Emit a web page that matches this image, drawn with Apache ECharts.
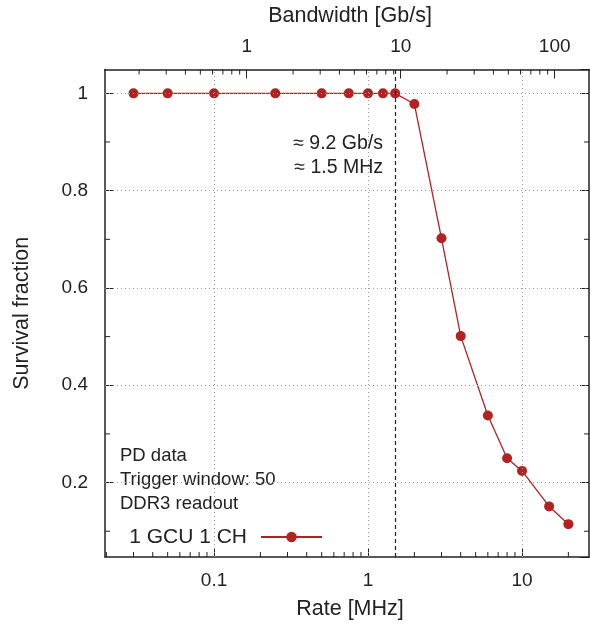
<!DOCTYPE html>
<html><head><meta charset="utf-8">
<script src="https://cdn.jsdelivr.net/npm/echarts@6/dist/echarts.min.js"></script>
<style>html,body{margin:0;padding:0;background:#fff}#c{width:590px;height:625px}</style>
</head><body><div id="c"></div>
<script>
// ---- data ----
const rateMHz  = [0.03, 0.05, 0.1, 0.25, 0.5, 0.75, 1, 1.25, 1.5, 2, 3, 4, 6, 8, 10, 15, 20];
const survival = [1, 1, 1, 1, 1, 1, 1, 1, 1, 0.978, 0.702, 0.501, 0.338, 0.250, 0.224, 0.151, 0.1145];
const seriesName = '1 GCU 1 CH';
const rateRange = [0.01959, 27.23];
const gbPerMHz = 9.2 / 1.5;
const yRange = [0.047, 1.049];
const rateGrid = [0.1, 1, 10];
const yGrid = [0.2, 0.4, 0.6, 0.8, 1.0];
const yMinor = [0.1, 0.3, 0.5, 0.7, 0.9];
const rateMinor = [0.02, 0.03, 0.04, 0.05, 0.06, 0.07, 0.08, 0.09, 0.2, 0.3, 0.4, 0.5, 0.6, 0.7, 0.8, 0.9, 2, 3, 4, 5, 6, 7, 8, 9, 20];
const bwMinor = [0.2, 0.3, 0.4, 0.5, 0.6, 0.7, 0.8, 0.9, 2, 3, 4, 5, 6, 7, 8, 9, 20, 30, 40, 50, 60, 70, 80, 90];
const cutRate = 1.5;
const cutText = ['≈ 9.2 Gb/s', '≈ 1.5 MHz'];
const infoText = ['PD data', 'Trigger window: 50', 'DDR3 readout'];
const xTitle = 'Rate [MHz]', x2Title = 'Bandwidth [Gb/s]', yTitle = 'Survival fraction';

// ---- style ----
const FONT = "'Liberation Sans', Arial, Helvetica, sans-serif";
const INK = '#222';
const RED = '#b22222';
const axisLine = {show: true, lineStyle: {color: INK, width: 1.5}};
const majorTick = {show: true, inside: true, length: 9, lineStyle: {color: INK, width: 1}};
const lbl = {fontSize: 19, fontFamily: FONT, color: INK, showMinLabel: false, showMaxLabel: false};
const titleStyle = {fontSize: 21.5, fontFamily: FONT, color: INK};
const xTitleStyle = {fontSize: 21.5, fontFamily: FONT, color: INK, padding: [0, 0, 0, 6]};

const chart = echarts.init(document.getElementById('c'), null, {renderer: 'canvas'});

function tickSeries(vals, xi, yi, dir) {
  return {
    type: 'custom', xAxisIndex: xi, yAxisIndex: yi, silent: true, z: 5, clip: false,
    data: vals.map(v => dir === 'y' ? [rateRange[0] * (xi ? gbPerMHz : 1), v] : [v, yRange[0]]),
    renderItem(params, api) {
      const cs = params.coordSys;
      const p = api.coord([api.value(0), api.value(1)]);
      const st = {stroke: INK, lineWidth: 1};
      if (dir === 'bottom') return {type: 'line', shape: {x1: p[0], y1: cs.y + cs.height, x2: p[0], y2: cs.y + cs.height - 5}, style: st};
      if (dir === 'top') return {type: 'line', shape: {x1: p[0], y1: cs.y, x2: p[0], y2: cs.y + 5}, style: st};
      return {type: 'group', children: [
        {type: 'line', shape: {x1: cs.x, y1: p[1], x2: cs.x + 5, y2: p[1]}, style: st},
        {type: 'line', shape: {x1: cs.x + cs.width, y1: p[1], x2: cs.x + cs.width - 5, y2: p[1]}, style: st}
      ]};
    }
  };
}

const dotted = {color: '#9a9a9a', width: 1, type: [1, 3]};

chart.setOption({
  animation: false,
  backgroundColor: '#fff',
  textStyle: {fontFamily: FONT},
  grid: {left: 105, right: 1, top: 69.5, bottom: 66.5, containLabel: false},
  xAxis: [
    {type: 'log', logBase: 10, position: 'bottom', min: rateRange[0], max: rateRange[1],
     axisLine, axisTick: majorTick, axisLabel: Object.assign({margin: 14}, lbl),
     splitLine: {show: false}, minorTick: {show: false},
     name: xTitle, nameLocation: 'middle', nameGap: 41, nameTextStyle: xTitleStyle},
    {type: 'log', logBase: 10, position: 'top', min: rateRange[0] * gbPerMHz, max: rateRange[1] * gbPerMHz,
     axisLine, axisTick: majorTick, axisLabel: Object.assign({margin: 13}, lbl),
     splitLine: {show: false}, minorTick: {show: false},
     name: x2Title, nameLocation: 'middle', nameGap: 42, nameTextStyle: xTitleStyle}
  ],
  yAxis: [
    {type: 'value', position: 'left', min: yRange[0], max: yRange[1],
     axisLine, axisTick: majorTick, axisLabel: Object.assign({margin: 17}, lbl),
     splitLine: {show: false},
     name: yTitle, nameLocation: 'middle', nameGap: 72, nameTextStyle: titleStyle},
    {type: 'value', position: 'right', min: yRange[0], max: yRange[1],
     axisLine, axisTick: majorTick, axisLabel: {show: false}, splitLine: {show: false}}
  ],
  legend: {
    data: [seriesName], right: 267, top: 526.5, align: 'right', padding: 0,
    itemWidth: 61, itemHeight: 13,
    textStyle: {fontSize: 21, fontFamily: FONT, color: INK, padding: [0, 9, 0, 0]}
  },
  series: [
    {type: 'line', name: '_grid', xAxisIndex: 0, yAxisIndex: 0, data: [], z: 1, silent: true,
     markLine: {silent: true, symbol: ['none', 'none'], label: {show: false}, animation: false,
       emphasis: {disabled: true},
       data: [
         ...yGrid.map(v => ({yAxis: v, lineStyle: dotted})),
         ...rateGrid.map(v => ({xAxis: v, lineStyle: dotted})),
         {xAxis: cutRate, lineStyle: {color: INK, width: 1.2, type: [4, 3]}}
       ]}},
    {type: 'line', name: seriesName, xAxisIndex: 0, yAxisIndex: 0, z: 3,
     data: rateMHz.map((r, i) => [r, survival[i]]),
     symbol: 'circle', symbolSize: 10, showSymbol: true,
     lineStyle: {color: RED, width: 1.3}, itemStyle: {color: RED}, emphasis: {disabled: true}},
    tickSeries(rateMinor, 0, 0, 'bottom'),
    tickSeries(bwMinor, 1, 0, 'top'),
    tickSeries(yMinor, 0, 0, 'y')
  ],
  graphic: [
    {type: 'text', x: 383, y: 144, style: {text: cutText[0], align: 'right', verticalAlign: 'middle', font: '19.5px ' + FONT, fill: INK}},
    {type: 'text', x: 383, y: 167.5, style: {text: cutText[1], align: 'right', verticalAlign: 'middle', font: '19.5px ' + FONT, fill: INK}},
    ...infoText.map((t, i) => ({type: 'text', x: 120, y: 455.5 + 24 * i,
      style: {text: t, align: 'left', verticalAlign: 'middle', font: '18.5px ' + FONT, fill: INK}}))
  ]
});
</script></body></html>
